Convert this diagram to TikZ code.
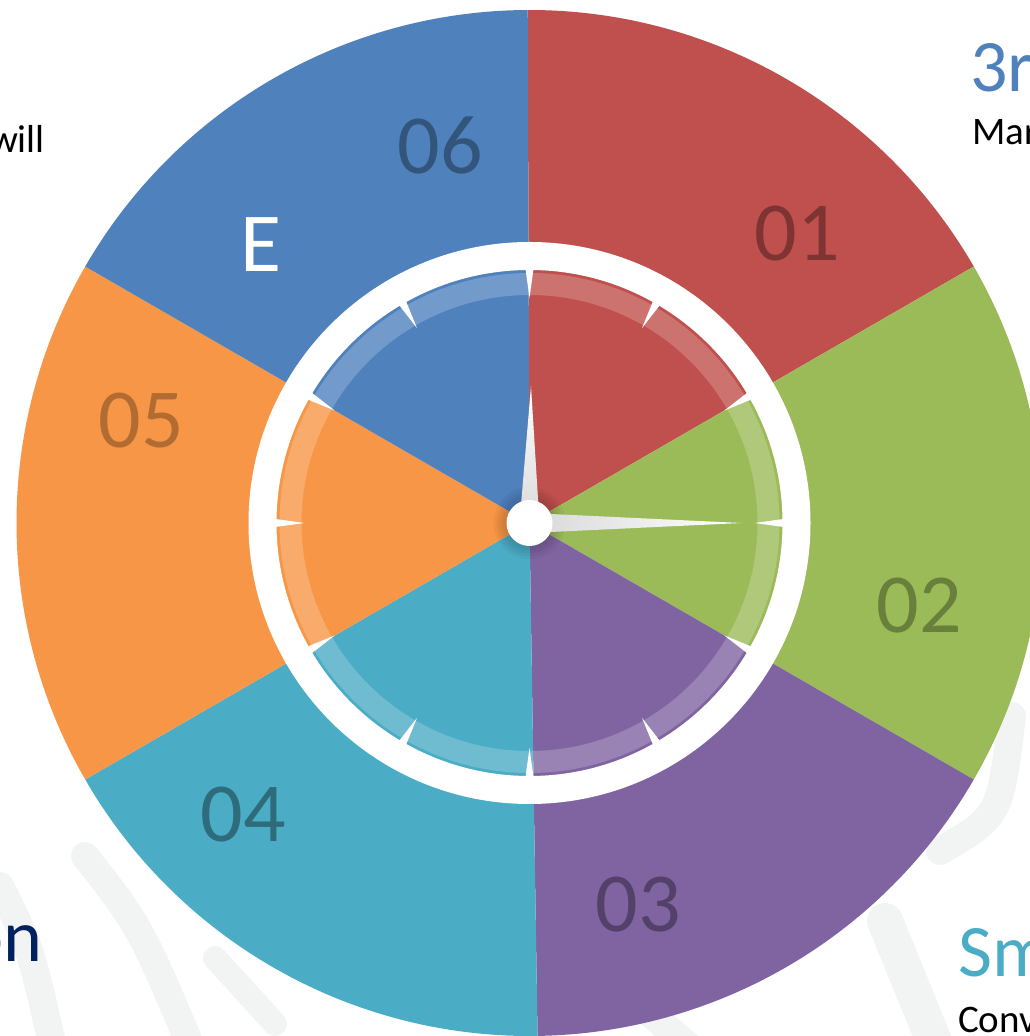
\documentclass[tikz,border=0pt]{standalone}
\usepackage{fontspec}
\setmainfont{Carlito}

\definecolor{secred}{HTML}{C0504D}
\definecolor{secgreen}{HTML}{9BBB59}
\definecolor{secpurple}{HTML}{8064A2}
\definecolor{seccyan}{HTML}{4BACC6}
\definecolor{secorange}{HTML}{F79646}
\definecolor{secblue}{HTML}{4F81BD}
\definecolor{navy}{HTML}{002060}
\definecolor{swirl}{HTML}{F2F3F3}

\begin{document}
\begin{tikzpicture}[x=1pt, y=1pt,
		num/.style={inner sep=0pt, font=\fontsize{84}{84}\selectfont},
		side/.style={inner sep=0pt, anchor=base west, font=\fontsize{39}{39}\selectfont},
		head/.style={inner sep=0pt, anchor=base west, font=\fontsize{74}{74}\selectfont},
		swirlline/.style={swirl, line width=28pt, line cap=round}]
		\useasboundingbox (0,0) rectangle (1030,1036);
		% faint background strokes
		\draw[swirlline] (0,150) .. controls (30,90) .. (55,-20);
		\draw[swirlline] (85,180) .. controls (140,110) .. (195,-20);
		\draw[swirlline, line width=24pt] (215,78) -- (275,12);
		\draw[swirlline] (630,40) -- (700,-20);
		\draw[swirlline] (1012,320) .. controls (1000,220) .. (940,185);
		\draw[swirlline, line width=36pt] (885,115) -- (940,-20);
		% sectors
		\begin{scope}[shift={(529.5,513)}]
			\foreach \a/\b/\col in {30/90.2/secred, -30/30/secgreen, -89.1/-30/secpurple,
				-150/-89.1/seccyan, 150/210/secorange, 90.2/150/secblue}
				\fill[\col] (0,0) -- (\a:513) arc[start angle=\a, end angle=\b, radius=513] -- cycle;
			% dial
			\fill[white, even odd rule] (0,0) circle (281) (0,0) circle (253);
			\fill[white, opacity=0.2, even odd rule] (0,0) circle (250) (0,0) circle (228);
			\foreach \t in {0,30,...,330}
				\fill[white] (\t-0.9:254) -- (\t:225) -- (\t+0.9:254) -- cycle;
			\foreach \r in {36,33,...,24}
				\fill[black, opacity=0.04] (0,0) circle (\r);
			\shade[bottom color=gray!30, middle color=white, top color=white] (-10,0) -- (1.5,137) -- (10,0) -- cycle;
			\shade[left color=gray!30, middle color=white, right color=white] (0,10) -- (212,0) -- (0,-10) -- cycle;
			\fill[white] (0,0) circle (23);
		\end{scope}
		% sector labels
		\node[num, text=secred!65!black] (n01) at (797,802) {01};
		\node[num, text=secgreen!68!black] (n02) at (919,430) {02};
		\node[num, text=secpurple!65!black] (n03) at (638,131) {03};
		\node[num, text=seccyan!62!black] (n04) at (243,221) {04};
		\node[num, text=secorange!72!black] (n05) at (141,615) {05};
		\node[num, text=secblue!65!black] (n06) at (440,891) {06};
		\node[num, text=white] (ne) at (261,791) {E};
		% side texts
		\node[head, text=secblue] (t3r) at (970,944) {3r};
		\node[side] (tmar) at (972,891) {Mar};
		\node[side, anchor=base east] (twill) at (45,883) {will};
		\node[head, anchor=base east, text=navy] (ton) at (43,74) {on};
		\node[head, text=seccyan] (tsm) at (958,59) {Sm};
		\node[side] (tconv) at (958,4) {Conv};
	\end{tikzpicture}
\end{document}
